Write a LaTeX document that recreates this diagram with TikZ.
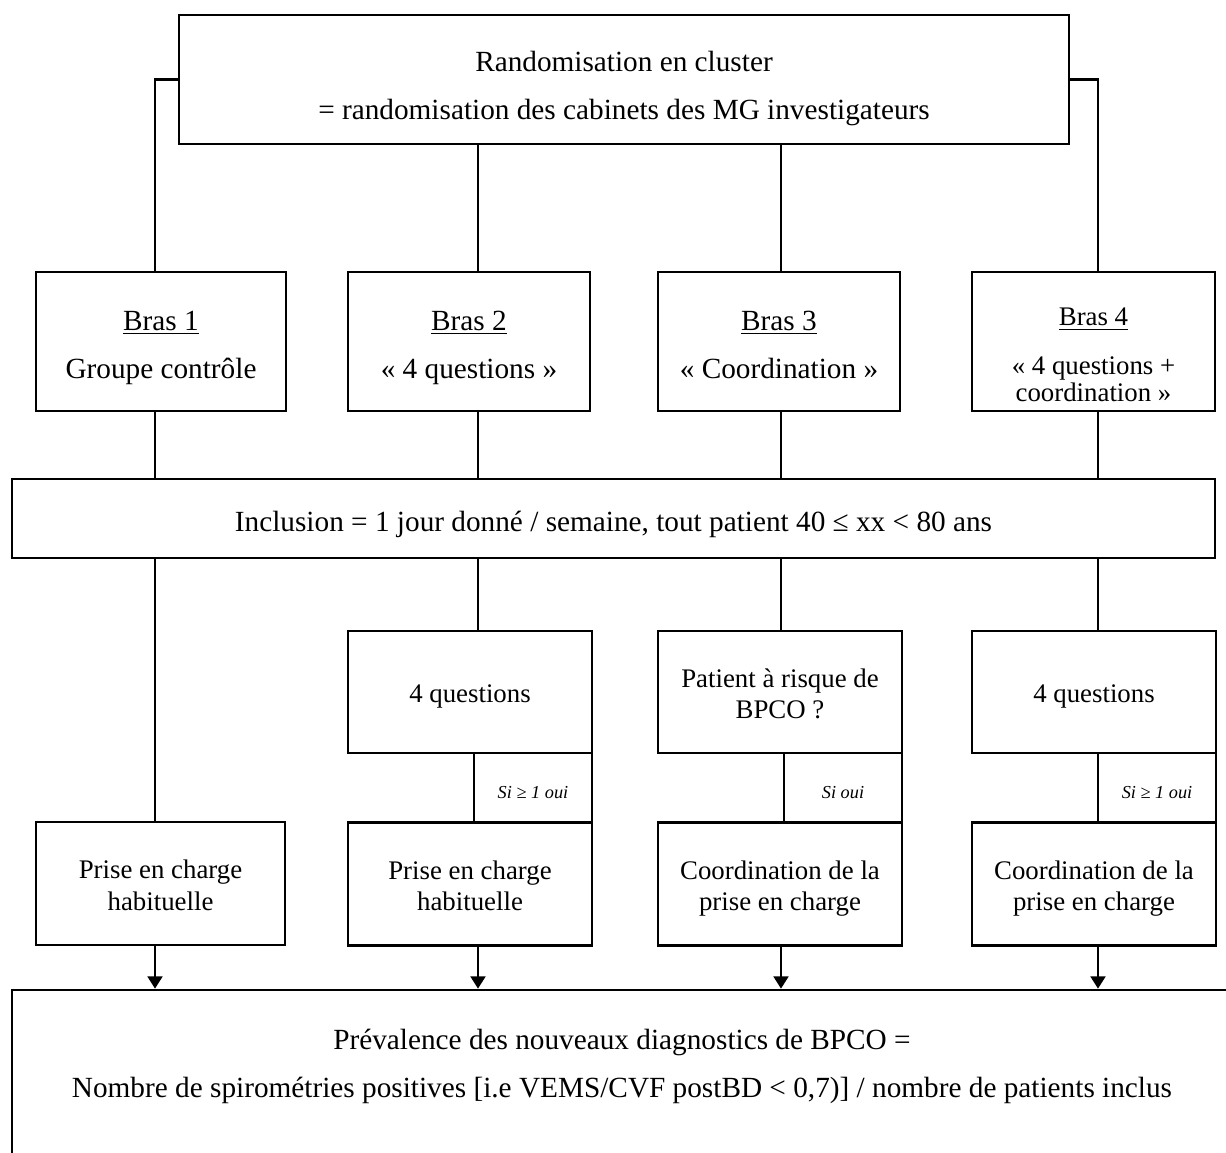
\documentclass[tikz,border=0pt]{standalone}
\usepackage{fontspec}
\setmainfont{Liberation Serif}
\usetikzlibrary{arrows.meta}
\newcommand\pxl{0.41pt}
\newcommand\hi{\rule{0pt}{1.36em}}
\tikzstyle{flow} = [
  x=\pxl,
  y=-\pxl,
  line width=1.1pt,
]
\tikzset{
  cell/.style 2 args={draw, align=center, inner sep=0pt,
    minimum width=#1*\pxl, minimum height=#2*\pxl},
  pad/.style={execute at end node={\rule[-#1]{0pt}{#1}}},
  bigfont/.style={font=\fontsize{12}{19.7}\selectfont},
  big/.style={bigfont, pad=5.9pt},
  small/.style={font=\fontsize{11}{12.8}\selectfont, pad=5.95pt},
  cond/.style={font=\fontsize{7.5}{9}\selectfont\itshape, pad=1.2pt},
  into/.style={-{Triangle[length=5pt,width=6pt]}},
}
\begin{document}
\begin{tikzpicture}[flow]
            \useasboundingbox (0,0) rectangle (1226,1153);
            \clip (0,0) rectangle (1226,1153);

            % Columns
            \coordinate (c1) at (155,0);
            \coordinate (c2) at (478,0);
            \coordinate (c3) at (781,0);
            \coordinate (c4) at (1098,0);

            % Randomisation
            \node[cell={890}{129}, bigfont, pad=3.1pt] (rand) at (624,79.5)
              {\hi Randomisation en cluster\\= randomisation des cabinets des MG investigateurs};

            % Arms
            \node[cell={250}{139}, big] (arm1) at (161,341.5) {\hi\underline{Bras 1}\\Groupe contrôle};
            \node[cell={242}{139}, big] (arm2) at (469,341.5) {\hi\underline{Bras 2}\\« 4 questions »};
            \node[cell={242}{139}, big] (arm3) at (779,341.5) {\hi\underline{Bras 3}\\« Coordination »};
            \node[cell={243}{139}, font=\fontsize{11}{11}\selectfont] (arm4) at (1093.5,341.5)
              {\rule{0pt}{18pt}\underline{Bras 4}\\[9pt]« 4 questions +\\coordination »};

            % Inclusion
            \node[cell={1203}{79}, big] (incl) at (613.5,518.5)
              {\hi Inclusion = 1 jour donné / semaine, tout patient 40 ≤ xx < 80 ans};

            % Screening
            \node[cell={244}{122}, small] (scr2) at (470,692) {\hi 4 questions};
            \node[cell={244}{122}, small] (scr3) at (780,692) {\hi Patient à risque de\\BPCO ?};
            \node[cell={244}{122}, small] (scr4) at (1094,692) {\hi 4 questions};

            % Conditions
            \node[cell={118}{69}, cond] (if2) at (533,787.5) {\hi Si ≥ 1 oui};
            \node[cell={118}{69}, cond] (if3) at (843,787.5) {\hi Si oui};
            \node[cell={118}{69}, cond] (if4) at (1157,787.5) {\hi Si ≥ 1 oui};

            % Care
            \node[cell={249}{123}, small] (care1) at (160.5,883.5) {\hi Prise en charge\\habituelle};
            \node[cell={244}{123}, small] (care2) at (470,884) {\hi Prise en charge\\habituelle};
            \node[cell={244}{123}, small] (care3) at (780,884) {\hi Coordination de la\\prise en charge};
            \node[cell={244}{123}, small] (care4) at (1094,884) {\hi Coordination de la\\prise en charge};

            % Outcome
            \node[cell={1220}{170}] (prev) at (622,1075) {};
            \node[big, align=center] (prevtext) at (622,1061)
              {\hi Prévalence des nouveaux diagnostics de BPCO =\\Nombre de spirométries positives [i.e VEMS/CVF postBD < 0,7)] / nombre de patients inclus};

            % Links
            \draw (rand.west) -| (arm1.north -| c1);
            \draw (rand.east) -| (arm4.north -| c4);
            \draw (rand.south -| c2) -- (arm2.north -| c2);
            \draw (rand.south -| c3) -- (arm3.north -| c3);

            \draw (arm1.south -| c1) -- (incl.north -| c1);
            \draw (arm2.south -| c2) -- (incl.north -| c2);
            \draw (arm3.south -| c3) -- (incl.north -| c3);
            \draw (arm4.south -| c4) -- (incl.north -| c4);

            \draw (incl.south -| c1) -- (care1.north -| c1);
            \draw (incl.south -| c2) -- (scr2.north -| c2);
            \draw (incl.south -| c3) -- (scr3.north -| c3);
            \draw (incl.south -| c4) -- (scr4.north -| c4);

            % Arrows into the outcome
            \draw[into] (care1.south -| c1) -- (prev.north -| c1);
            \draw[into] (care2.south -| c2) -- (prev.north -| c2);
            \draw[into] (care3.south -| c3) -- (prev.north -| c3);
            \draw[into] (care4.south -| c4) -- (prev.north -| c4);
          \end{tikzpicture}
\end{document}
